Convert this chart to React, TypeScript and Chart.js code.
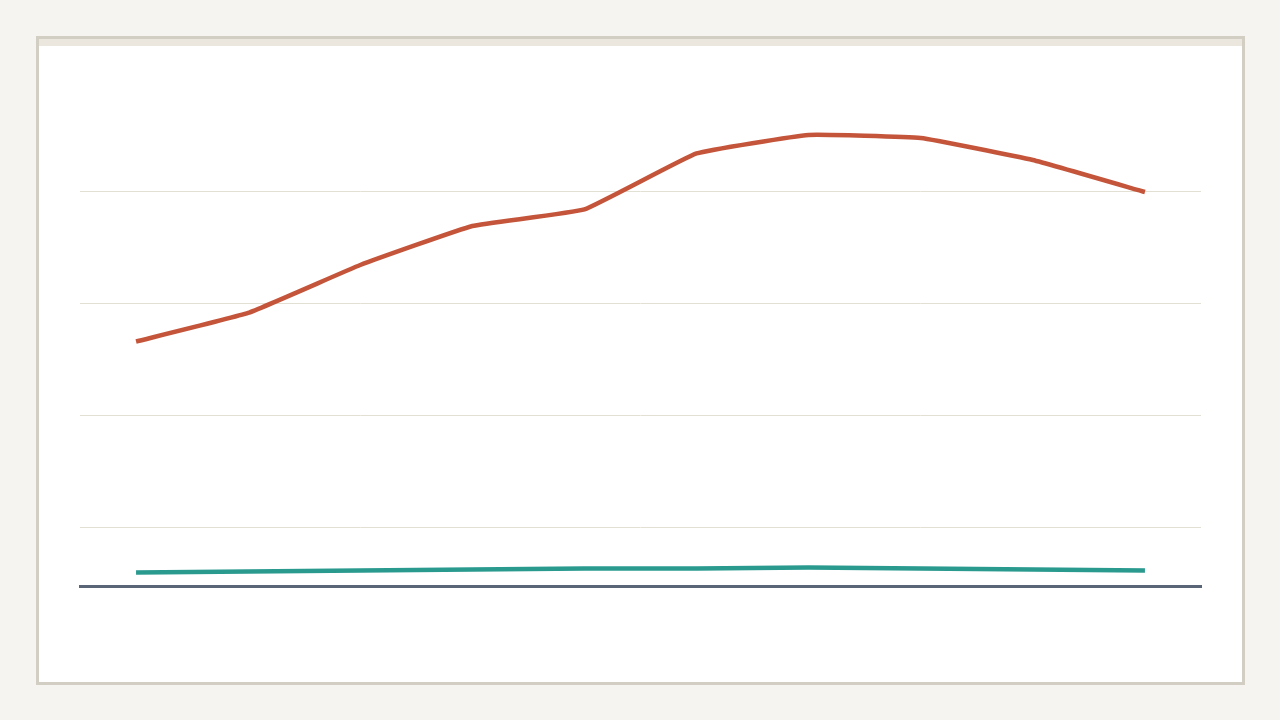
import React, { useEffect, useRef } from "react";
import { Chart, registerables } from "chart.js";

Chart.register(...registerables);

const categories = ["1", "2", "3", "4", "5", "6", "7", "8", "9", "10"];
const seriesA = [26.65, 29.2, 33.48, 36.96, 38.44, 43.44, 45.09, 44.82, 42.86, 40.0];
const seriesB = [6.03, 6.12, 6.21, 6.29, 6.38, 6.38, 6.47, 6.38, 6.29, 6.21];
const gridTicks = [10, 20, 30, 40];
const yMin = 4.82;
const yMax = 50;

export default function App() {
  const ref = useRef<HTMLCanvasElement | null>(null);

  useEffect(() => {
    if (!ref.current) return;
    const chart = new Chart(ref.current, {
      type: "line",
      data: {
        labels: categories,
        datasets: [
          {
            label: "A",
            data: seriesA,
            borderColor: "#c4553b",
            backgroundColor: "#c4553b",
            borderWidth: 4.5,
            pointRadius: 0,
            tension: 0.1,
            fill: false,
          },
          {
            label: "B",
            data: seriesB,
            borderColor: "#2a9a8f",
            backgroundColor: "#2a9a8f",
            borderWidth: 4.5,
            pointRadius: 0,
            tension: 0.1,
            fill: false,
          },
        ],
      },
      options: {
        animation: false,
        responsive: false,
        maintainAspectRatio: false,
        layout: { padding: { left: 41, right: 41, top: 34, bottom: 96 } },
        plugins: { legend: { display: false }, tooltip: { enabled: false }, title: { display: false } },
        scales: {
          x: {
            offset: true,
            grid: { display: false, drawTicks: false },
            ticks: { display: false },
            border: { display: true, color: "#5a6577", width: 3 },
          },
          y: {
            min: yMin,
            max: yMax,
            afterBuildTicks: (scale: any) => {
              scale.ticks = gridTicks.map((v) => ({ value: v }));
            },
            grid: { color: "#e2e0d3", lineWidth: 1, drawTicks: false },
            ticks: { display: false },
            border: { display: false },
          },
        },
      },
    });
    return () => chart.destroy();
  }, []);

  return (
    <div style={{ position: "fixed", inset: 0, background: "#f5f4f0" }}>
      <div
        style={{
          position: "absolute",
          left: 36,
          top: 36,
          width: 1209,
          height: 649,
          boxSizing: "border-box",
          border: "3px solid #d3cec4",
          background: "#ffffff",
        }}
      >
        <div style={{ position: "absolute", left: 0, top: 0, right: 0, height: 7, background: "#ebe7df" }} />
        <canvas
          ref={ref}
          width={1203}
          height={636}
          style={{ position: "absolute", left: 0, top: 7, width: 1203, height: 636 }}
        />
      </div>
    </div>
  );
}
